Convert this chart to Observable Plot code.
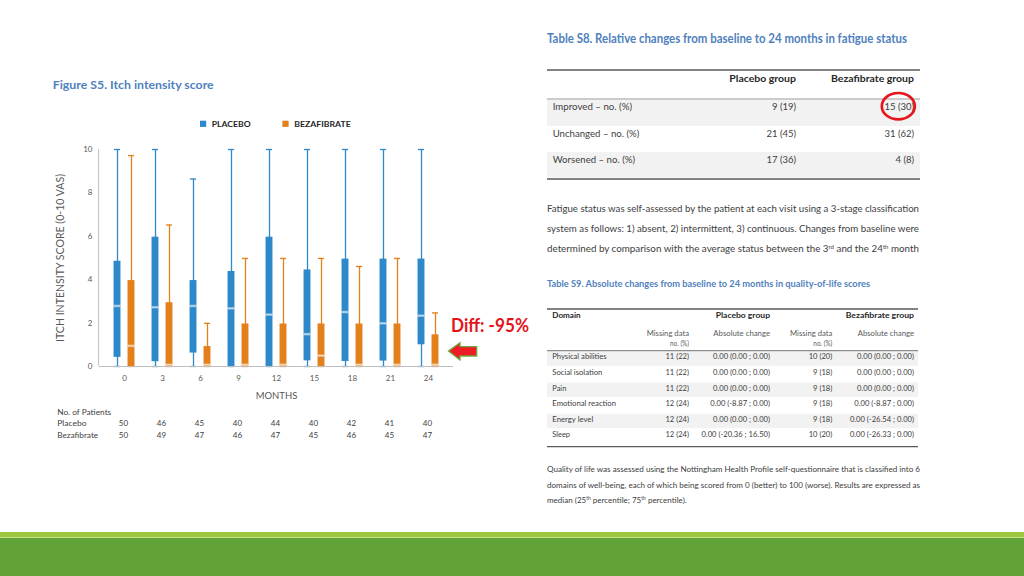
<!DOCTYPE html>
<html><head><meta charset="utf-8">
<script src="https://cdn.jsdelivr.net/npm/d3@7"></script>
<script src="https://cdn.jsdelivr.net/npm/@observablehq/plot@0.6"></script>
<style>
html,body{margin:0;padding:0;background:#fff;}
#slide{position:relative;width:1024px;height:576px;overflow:hidden;background:#fff;font-family:Lato,sans-serif;}
#chart{position:absolute;left:0;top:0;}
#overlay{position:absolute;left:0;top:0;}
</style></head><body>
<div id="slide"><div id="chart"></div><svg id="overlay" width="1024" height="576"></svg></div>
<script>
// ---------- chart data ----------
const months = [0, 3, 6, 9, 12, 15, 18, 21, 24];
const yTicks = [0, 2, 4, 6, 8, 10];
const groups = ["PLACEBO", "BEZAFIBRATE"];
const placeboLo  = [0, 0, 0, 0, 0, 0, 0, 0, 0];
const placeboQ1  = [0.42, 0.22, 0.62, 0, 0, 0.26, 0.23, 0.25, 1.0];
const placeboMed = [2.79, 2.73, 2.79, 2.68, 2.39, 1.49, 2.51, 1.99, 2.34];
const placeboQ3  = [4.85, 5.96, 3.96, 4.38, 5.96, 4.45, 4.95, 4.95, 4.95];
const placeboHi  = [10, 10, 8.64, 10, 10, 10, 10, 10, 10];
const bezaLo  = [0, 0, 0, 0, 0, 0, 0, 0, 0];
const bezaQ1  = [0, 0, 0, 0, 0, 0, 0, 0, 0];
const bezaMed = [0.95, 0.08, 0.08, 0.08, 0.08, 0.5, 0.08, 0.08, 0.08];
const bezaQ3  = [3.96, 2.94, 0.92, 1.96, 1.96, 1.96, 1.96, 1.96, 1.46];
const bezaHi  = [9.72, 6.52, 1.99, 4.98, 4.98, 4.98, 4.61, 4.98, 2.47];
const patientsPlacebo = [50, 46, 45, 40, 44, 40, 42, 41, 40];
const patientsBeza    = [50, 49, 47, 46, 47, 45, 46, 45, 47];

// ---------- table data ----------
const s8Rows    = ["Improved \u2013 no. (%)", "Unchanged \u2013 no. (%)", "Worsened \u2013 no. (%)"];
const s8Placebo = ["9 (19)", "21 (45)", "17 (36)"];
const s8Beza    = ["15 (30)", "31 (62)", "4 (8)"];
const s9Domains = ["Physical abilities", "Social isolation", "Pain", "Emotional reaction", "Energy level", "Sleep"];
const s9PlaceboMissing = ["11 (22)", "11 (22)", "11 (22)", "12 (24)", "12 (24)", "12 (24)"];
const s9PlaceboChange  = ["0.00 (0.00 ; 0.00)", "0.00 (0.00 ; 0.00)", "0.00 (0.00 ; 0.00)", "0.00 (-8.87 ; 0.00)", "0.00 (0.00 ; 0.00)", "0.00 (-20.36 ; 16.50)"];
const s9BezaMissing    = ["10 (20)", "9 (18)", "9 (18)", "9 (18)", "9 (18)", "10 (20)"];
const s9BezaChange     = ["0.00 (0.00 ; 0.00)", "0.00 (0.00 ; 0.00)", "0.00 (0.00 ; 0.00)", "0.00 (-8.87 ; 0.00)", "0.00 (-26.54 ; 0.00)", "0.00 (-26.33 ; 0.00)"];

const colors = ["#2E89CA", "#E4801B"];

function rows(lo, q1, med, q3, hi) {
  return months.map((m, i) => ({month: m, lo: lo[i], q1: q1[i], med: med[i], q3: q3[i], hi: hi[i]}));
}
const series = [
  {data: rows(placeboLo, placeboQ1, placeboMed, placeboQ3, placeboHi), color: colors[0], dx: -7},
  {data: rows(bezaLo, bezaQ1, bezaMed, bezaQ3, bezaHi), color: colors[1], dx: 7}
];

const xRange = [103.5, 448.9];
const bw = (xRange[1] - xRange[0]) / months.length;
const barInset = (bw - 7.3) / 2;
const capInset = (bw - 6.5) / 2;

const boxMarks = series.flatMap(s => [
  Plot.ruleX(s.data, {x: "month", y1: "lo", y2: "hi", stroke: s.color, strokeWidth: 1.3, dx: s.dx}),
  Plot.tickY(s.data, {x: "month", y: "hi", stroke: s.color, strokeWidth: 1.3, insetLeft: capInset, insetRight: capInset, dx: s.dx}),
  Plot.tickY(s.data, {x: "month", y: "lo", stroke: s.color, strokeWidth: 1.3, insetLeft: capInset, insetRight: capInset, dx: s.dx}),
  Plot.barY(s.data, {x: "month", y1: "q1", y2: "q3", fill: s.color, insetLeft: barInset, insetRight: barInset, dx: s.dx}),
  Plot.tickY(s.data, {x: "month", y: "med", stroke: "white", strokeOpacity: 0.4, strokeWidth: 2.6, insetLeft: barInset, insetRight: barInset, dx: s.dx}),
  Plot.tickY(s.data, {x: "month", y: "med", stroke: "white", strokeOpacity: 0.85, strokeWidth: 0.7, insetLeft: barInset, insetRight: barInset, dx: s.dx})
]);

const countRows = months.map((m, i) => ({month: m, p: patientsPlacebo[i], b: patientsBeza[i]}));

const chart = Plot.plot({
  width: 540, height: 460,
  marginLeft: 99, marginRight: 87, marginTop: 149, marginBottom: 94,
  style: {fontFamily: "Lato, sans-serif", fontSize: "8px", color: "#595959", background: "transparent", overflow: "visible"},
  x: {type: "band", domain: months, range: xRange, padding: 0},
  y: {domain: [0, 10]},
  marks: [
    Plot.axisY({ticks: yTicks, tickSize: 0, tickPadding: 7, label: null, fontSize: 8}),
    Plot.axisX({tickSize: 0, tickPadding: 9, label: null, fontSize: 8}),
    ...boxMarks,
    Plot.ruleY([0], {stroke: "#BFBFBF", strokeWidth: 1.2}),
    Plot.text(["ITCH INTENSITY SCORE (0-10 VAS)"], {frameAnchor: "left", textAnchor: "middle", dx: -39, rotate: -90, fontSize: 11}),
    Plot.text(["MONTHS"], {frameAnchor: "bottom", dy: 32, fontSize: 10}),
    Plot.text(["No. of Patients"], {frameAnchor: "bottom-left", dx: -42.3, dy: 48, textAnchor: "start", fontSize: 8, fill: "#404040"}),
    Plot.text(["Placebo"], {frameAnchor: "bottom-left", dx: -42.3, dy: 59.5, textAnchor: "start", fontSize: 8, fill: "#404040"}),
    Plot.text(["Bezafibrate"], {frameAnchor: "bottom-left", dx: -42.3, dy: 71, textAnchor: "start", fontSize: 8, fill: "#404040"}),
    Plot.text(countRows, {x: "month", text: "p", frameAnchor: "bottom", dy: 59.5, dx: -1, fontSize: 8, fill: "#404040"}),
    Plot.text(countRows, {x: "month", text: "b", frameAnchor: "bottom", dy: 71, dx: -1, fontSize: 8, fill: "#404040"})
  ]
});
document.getElementById("chart").appendChild(chart);

// y-axis line along the left edge of the frame (positions from the chart's own y scale)
{
  const ys = chart.scale("y");
  const axis = document.createElementNS("http://www.w3.org/2000/svg", "line");
  axis.setAttribute("x1", 98.5); axis.setAttribute("x2", 98.5);
  axis.setAttribute("y1", ys.apply(0)); axis.setAttribute("y2", ys.apply(10));
  axis.setAttribute("stroke", "#C8C8C8"); axis.setAttribute("stroke-width", 1.2);
  chart.appendChild(axis);
}

// fit a few chart texts to the reference widths
const fitChart = {"ITCH INTENSITY SCORE (0-10 VAS)": 168, "No. of Patients": 54, "Placebo": 29.3, "Bezafibrate": 41, "MONTHS": 41.6};
chart.querySelectorAll("text").forEach(t => {
  const w = fitChart[t.textContent];
  if (w) { t.setAttribute("textLength", w); t.setAttribute("lengthAdjust", "spacingAndGlyphs"); }
});

// ---------- overlay (titles, legend, tables, notes) ----------
const NS = "http://www.w3.org/2000/svg";
const ov = document.getElementById("overlay");
function el(name, attrs) {
  const e = document.createElementNS(NS, name);
  for (const k in attrs) e.setAttribute(k, attrs[k]);
  ov.appendChild(e);
  return e;
}
function txt(x, y, content, o = {}) {
  const t = el("text", {x, y, "font-family": o.family || "Lato, sans-serif", "font-size": o.size || 9,
    "font-weight": o.weight || 400, fill: o.fill || "#404040", "text-anchor": o.anchor || "start"});
  if (typeof content === "string") t.textContent = content;
  else content.forEach(part => {
    const s = document.createElementNS(NS, "tspan");
    if (Array.isArray(part)) { s.textContent = part[0]; s.setAttribute("font-size", (o.size || 9) * 0.62); s.setAttribute("dy", -(o.size || 9) * 0.38); s._sup = true; }
    else { s.textContent = part; }
    t.appendChild(s);
  });
  let prevSup = false;
  t.querySelectorAll("tspan").forEach(s => { if (!s._sup && prevSup) s.setAttribute("dy", (o.size || 9) * 0.38); prevSup = !!s._sup; });
  if (o.w) { t.setAttribute("textLength", o.w); t.setAttribute("lengthAdjust", "spacingAndGlyphs"); }
  return t;
}
const titleBlue = "#4F81BD";

// left title + legend
txt(52.7, 89, "Figure S5. Itch intensity score", {size: 11, weight: 700, fill: titleBlue, w: 161});
el("rect", {x: 200, y: 120.7, width: 6.2, height: 6.2, fill: colors[0]});
txt(211.7, 126.7, groups[0], {size: 8, weight: 700, fill: "#262626", w: 39});
el("rect", {x: 282.4, y: 120.7, width: 6.2, height: 6.2, fill: colors[1]});
txt(294.3, 126.7, groups[1], {size: 8, weight: 700, fill: "#262626", w: 56.4});

// Diff annotation + arrow
txt(451, 332, "Diff: -95%", {size: 18, weight: 700, fill: "#E3141B", w: 78});
el("polygon", {points: "448.5,351 460,342.7 460,346.7 476.7,346.7 476.7,356 460,356 460,360", fill: "#EE1C24", stroke: "#6FA83A", "stroke-width": 1.3, "stroke-linejoin": "miter"});

// Table S8
txt(547, 42.7, "Table S8. Relative changes from baseline to 24 months in fatigue status", {size: 12.5, weight: 700, fill: titleBlue, w: 360});
const s8Y = [110, 136.7, 162.7];
el("rect", {x: 547, y: 100, width: 373, height: 26, fill: "#F2F2F2"});
el("rect", {x: 547, y: 152, width: 373, height: 25.5, fill: "#F2F2F2"});
el("line", {x1: 547, x2: 920, y1: 70, y2: 70, stroke: "#595959", "stroke-width": 1.3});
el("line", {x1: 547, x2: 920, y1: 99, y2: 99, stroke: "#8C8C8C", "stroke-width": 0.9});
el("line", {x1: 547, x2: 920, y1: 179, y2: 179, stroke: "#595959", "stroke-width": 1.3});
txt(796, 81.7, "Placebo group", {size: 9.5, weight: 700, fill: "#262626", anchor: "end", w: 66.7});
txt(914, 81.7, "Bezafibrate group", {size: 9.5, weight: 700, fill: "#262626", anchor: "end", w: 83});
const s8W = [79.3, 86.7, 82.3];
s8Rows.forEach((r, i) => {
  txt(552.7, s8Y[i], r, {size: 9.5, w: s8W[i]});
  txt(796, s8Y[i], s8Placebo[i], {size: 9.5, anchor: "end"});
  txt(914, s8Y[i], s8Beza[i], {size: 9.5, anchor: "end"});
});
el("ellipse", {cx: 898.3, cy: 106.2, rx: 16.5, ry: 13.2, fill: "none", stroke: "#E8141B", "stroke-width": 2.7});

// Note 1
const n1 = {size: 8.5, fill: "#404040"};
txt(547, 212.3, "Fatigue status was self-assessed by the patient at each visit using a 3-stage classification", {...n1, w: 372});
txt(547, 232.3, "system as follows: 1) absent, 2) intermittent, 3) continuous. Changes from baseline were", {...n1, w: 372});
txt(547, 252.3, ["determined by comparison with the average status between the 3", ["rd"], " and the 24", ["th"], " month"], {...n1, w: 372});

// Table S9
txt(547, 286.7, "Table S9. Absolute changes from baseline to 24 months in quality-of-life scores", {size: 10, weight: 700, fill: titleBlue, w: 323});
const s9Y = [359.3, 375, 390.5, 406, 421.7, 437.3];
[0, 2, 4].forEach(i => el("rect", {x: 547, y: s9Y[i] - 8, width: 371, height: 14.5, fill: "#F2F2F2"}));
el("line", {x1: 547, x2: 918, y1: 309, y2: 309, stroke: "#595959", "stroke-width": 1.3});
el("line", {x1: 547, x2: 918, y1: 350.7, y2: 350.7, stroke: "#8C8C8C", "stroke-width": 1.2});
el("line", {x1: 547, x2: 918, y1: 446.7, y2: 446.7, stroke: "#595959", "stroke-width": 1.3});
txt(552.3, 318.3, "Domain", {size: 8, weight: 700, fill: "#262626", w: 28.3});
txt(770, 318.3, "Placebo group", {size: 8, weight: 700, fill: "#262626", anchor: "end", w: 54.3});
txt(914, 318.3, "Bezafibrate group", {size: 8, weight: 700, fill: "#262626", anchor: "end", w: 68.3});
const sub = {size: 7.6, fill: "#595959", anchor: "end"};
txt(689, 335.7, "Missing data", {...sub, w: 42.3});
txt(689, 345.7, "no. (%)", {...sub, w: 19});
txt(770, 335.7, "Absolute change", {...sub, w: 56.7});
txt(832.3, 335.7, "Missing data", {...sub, w: 42.3});
txt(832.3, 345.7, "no. (%)", {...sub, w: 19});
txt(914, 335.7, "Absolute change", {...sub, w: 56.3});
const s9W = [54.3, 50, 14, 63.7, 41, 17.7];
s9Domains.forEach((d, i) => {
  const y = s9Y[i];
  txt(552.3, y, d, {size: 7.6, fill: "#404040", w: s9W[i]});
  txt(689, y, s9PlaceboMissing[i], {size: 7.6, anchor: "end"});
  txt(770, y, s9PlaceboChange[i], {size: 7.6, anchor: "end"});
  txt(832.3, y, s9BezaMissing[i], {size: 7.6, anchor: "end"});
  txt(914, y, s9BezaChange[i], {size: 7.6, anchor: "end"});
});

// Note 2
const n2 = {size: 7.8, fill: "#404040"};
txt(547, 472.3, "Quality of life was assessed using the Nottingham Health Profile self-questionnaire that is classified into 6", {...n2, w: 373});
txt(547, 487.7, "domains of well-being, each of which being scored from 0 (better) to 100 (worse). Results are expressed as", {...n2, w: 373});
txt(547, 502.7, ["median (25", ["th"], " percentile; 75", ["th"], " percentile)."], {...n2, w: 139.7});

// bottom green band
el("rect", {x: 0, y: 532, width: 1024, height: 5, fill: "#9DC73F"});
el("rect", {x: 0, y: 537, width: 1024, height: 1, fill: "#C6DF8E"});
el("rect", {x: 0, y: 538, width: 1024, height: 38, fill: "#62A338"});
</script>
</body></html>
